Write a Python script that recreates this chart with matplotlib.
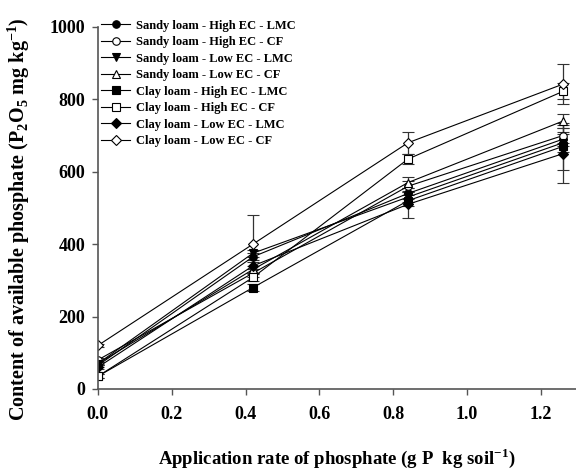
import matplotlib
matplotlib.use("Agg")
import matplotlib.pyplot as plt
from matplotlib.lines import Line2D

plt.rcParams["font.family"] = ["Liberation Serif", "DejaVu Serif"]
plt.rcParams["font.weight"] = "bold"
plt.rcParams["mathtext.fontset"] = "custom"
plt.rcParams["mathtext.rm"] = "Liberation Serif:bold"
plt.rcParams["mathtext.bf"] = "Liberation Serif:bold"

# Application rates (g P kg soil-1)
rates = [0.0, 0.42, 0.84, 1.26]

labels = [
    "Sandy loam - High EC - LMC",
    "Sandy loam - High EC - CF",
    "Sandy loam - Low EC - LMC",
    "Sandy loam - Low EC - CF",
    "Clay loam - High EC - LMC",
    "Clay loam - High EC - CF",
    "Clay loam - Low EC - LMC",
    "Clay loam - Low EC - CF",
]

# Available phosphate (mg P2O5 kg-1)
sandyHighLmc = [65, 365, 540, 690]
sandyHighCf  = [80, 320, 560, 700]
sandyLowLmc  = [70, 375, 530, 680]
sandyLowCf   = [70, 330, 570, 740]
clayHighLmc  = [35, 280, 520, 670]
clayHighCf   = [35, 308, 635, 822]
clayLowLmc   = [60, 340, 510, 650]
clayLowCf    = [120, 400, 680, 842]

# Error bars (+/-)
errSandyHighLmc = [5, 10, 15, 20]
errSandyHighCf  = [5, 10, 15, 20]
errSandyLowLmc  = [5, 10, 15, 25]
errSandyLowCf   = [5, 10, 15, 20]
errClayHighLmc  = [5, 10, 15, 65]
errClayHighCf   = [5, 10, 15, 22]
errClayLowLmc   = [5, 10, 38, 80]
errClayLowCf    = [5, 80, 30, 55]

values = [sandyHighLmc, sandyHighCf, sandyLowLmc, sandyLowCf,
          clayHighLmc, clayHighCf, clayLowLmc, clayLowCf]
errors = [errSandyHighLmc, errSandyHighCf, errSandyLowLmc, errSandyLowCf,
          errClayHighLmc, errClayHighCf, errClayLowLmc, errClayLowCf]
markers = ["o", "o", "v", "^", "s", "s", "D", "D"]
filled  = [True, False, True, False, True, False, True, False]

fig = plt.figure(figsize=(5.76, 4.72), dpi=100)
ax = fig.add_axes([0.170, 0.176, 0.830, 0.767])

handles = []
for lab, vals, err, mk, fl in zip(labels, values, errors, markers, filled):
    ms = 5.4 if mk != "D" else 5.0
    face = "black" if fl else "white"
    ax.errorbar(rates, vals, yerr=err, color="black", linewidth=0.8,
                marker=mk, markersize=ms, markerfacecolor=face,
                markeredgecolor="black", markeredgewidth=0.8,
                ecolor="#333333", elinewidth=0.9, capsize=4, capthick=0.9)
    handles.append(Line2D([], [], color="black", linewidth=0.8, marker=mk,
                          markersize=ms, markerfacecolor=face,
                          markeredgecolor="black", markeredgewidth=0.8))

ax.set_xlim(0, 1.295)
ax.set_ylim(0, 1000)
ax.set_xticks([0.0, 0.2, 0.4, 0.6, 0.8, 1.0, 1.2])
ax.set_xticklabels(["0.0", "0.2", "0.4", "0.6", "0.8", "1.0", "1.2"])
ax.set_yticks([0, 200, 400, 600, 800, 1000])

for side in ["top", "right"]:
    ax.spines[side].set_visible(False)
for side in ["left", "bottom"]:
    ax.spines[side].set_color("#555555")
    ax.spines[side].set_linewidth(1.2)
ax.tick_params(direction="out", length=4, width=1, color="#555555",
               labelsize=13, pad=5)
ax.tick_params(axis="x", pad=8)
for t in ax.get_xticklabels() + ax.get_yticklabels():
    t.set_fontweight("bold")

ax.set_xlabel("Application rate of phosphate (g P  kg soil$^{-1}$)",
              fontsize=13.5, fontweight="bold", labelpad=17)
ax.set_ylabel("Content of available phosphate (P$_2$O$_5$ mg kg$^{-1}$)",
              fontsize=14.5, fontweight="bold")
ax.yaxis.set_label_coords(-0.138, 0.47)

fig.legend(handles, labels, loc="upper left", bbox_to_anchor=(0.176, 0.958),
           frameon=False, prop={"size": 9, "weight": "bold"},
           handlelength=2.3, handletextpad=0.5, labelspacing=0.36,
           borderaxespad=0, borderpad=0)

fig.savefig("out.png", dpi=100)
